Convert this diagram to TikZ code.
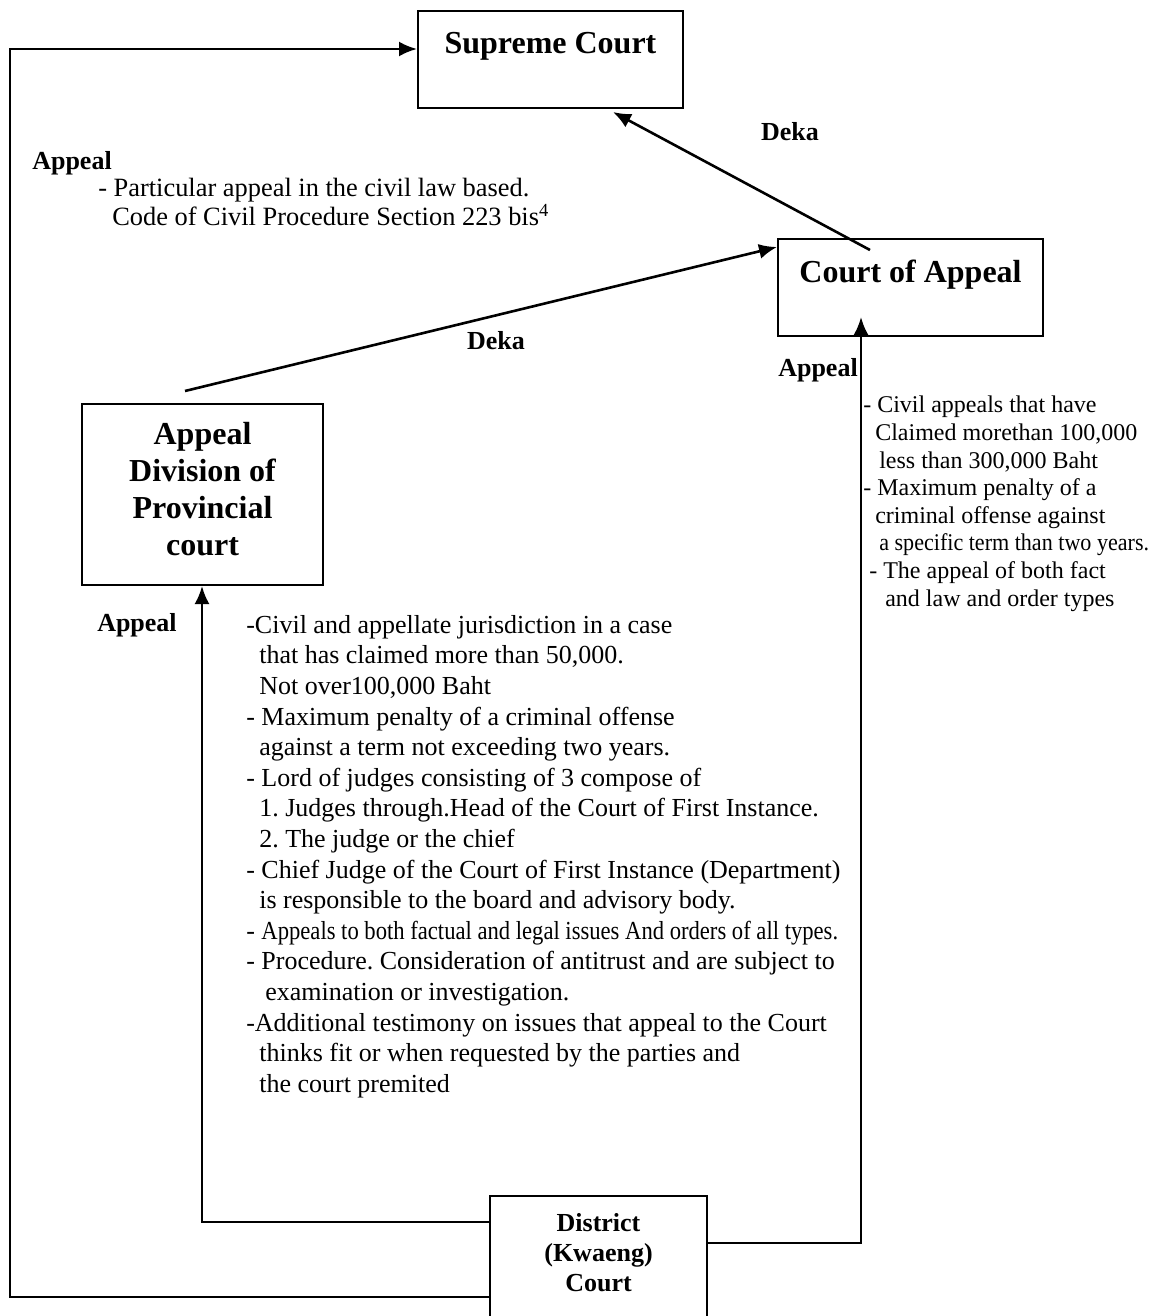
\documentclass[tikz,border=0pt]{standalone}
\usepackage{fontspec}
\setmainfont{Liberation Serif}
\usepackage{graphicx}
\usetikzlibrary{arrows.meta}
\frenchspacing

\tikzset{
  courtbox/.style={draw,line width=1pt,inner sep=0pt,font=\fontsize{16}{18.5}\selectfont\bfseries},
  tagtext/.style={font=\fontsize{13}{15}\selectfont\bfseries,inner sep=0pt},
  notetext/.style={align=left,inner sep=0pt,anchor=north west},
}

\begin{document}
\begin{tikzpicture}[x=0.5pt,y=-0.5pt]
\useasboundingbox (0,0) rectangle (1156,1316);

\begin{scope}[>={Latex[length=9pt,width=7.5pt]},line width=1.3pt]
% the courts
\node[courtbox,anchor=north west,minimum width=132.5pt,text height=21.5pt,text depth=27pt] (supreme) at (417,10) {Supreme Court};
\node[courtbox,anchor=north west,minimum width=132.5pt,text height=21.5pt,text depth=27pt] (appealcourt) at (777,238) {Court of Appeal};
\node[courtbox,anchor=north west,minimum width=120.5pt,minimum height=90.5pt,align=center] (provincial) at (81,403) {Appeal\\Division of\\Provincial\\court\\[-13pt]\mbox{}};
\node[courtbox,anchor=north west,minimum width=108.5pt,minimum height=67.5pt,align=center,font=\fontsize{13}{15}\selectfont\bfseries] (district) at (489,1195) {District\\(Kwaeng)\\Court\\[-4pt]\mbox{}};

% labels on the routes
\node[tagtext] (dekatop) at (790,132) {Deka};
\node[tagtext] (dekamid) at (496,341) {Deka};
\node[tagtext,anchor=west] (appealtop) at (31,163) {Appeal};
\node[tagtext] (appealright) at (818,370) {Appeal};
\node[tagtext] (appealleft) at (137,625) {Appeal};

\node[notetext,font=\fontsize{13.2}{12.5}\selectfont] (supremenote) at (97,177) {- Particular appeal in the civil law based.\\\hspace*{7pt}Code of Civil Procedure Section 223 bis\textsuperscript{4}};
\node[notetext,font=\fontsize{12}{13.8}\selectfont] (appealnote) at (862,395) {- Civil appeals that have\\
\hspace*{6pt}Claimed morethan 100,000\\
\hspace*{8pt}less than 300,000 Baht\\
- Maximum penalty of a\\
\hspace*{6pt}criminal offense against\\
\hspace*{8pt}\scalebox{0.92}[1]{a specific term than two years.}\\
\hspace*{3pt}- The appeal of both fact\\
\hspace*{11pt}and law and order types};
\node[notetext,font=\fontsize{13}{15.3}\selectfont] (provnote) at (245,614) {-Civil and appellate jurisdiction in a case\\
\hspace*{6.5pt}that has claimed more than 50,000.\\
\hspace*{6.5pt}Not over100,000 Baht\\
- Maximum penalty of a criminal offense\\
\hspace*{6.5pt}against a term not exceeding two years.\\
- Lord of judges consisting of 3 compose of\\
\hspace*{6.5pt}1. Judges through.Head of the Court of First Instance.\\
\hspace*{6.5pt}2. The judge or the chief\\
- Chief Judge of the Court of First Instance (Department)\\
\hspace*{6.5pt}is responsible to the board and advisory body.\\
- \scalebox{0.87}[1]{Appeals to both factual and legal issues And orders of all types.}\\
- Procedure. Consideration of antitrust and are subject to\\
\hspace*{9.5pt}examination or investigation.\\
-Additional testimony on issues that appeal to the Court\\
\hspace*{6.5pt}thinks fit or when requested by the parties and\\
\hspace*{6.5pt}the court premited};

% routes
\coordinate (outerlow) at (10,1297);
\coordinate (outerhigh) at (10,49);
\draw[->] (district.west |- outerlow) -- (outerlow) -- (outerhigh) -- (supreme.west |- outerhigh);
\coordinate (provbend) at (202,1222);
\draw[->] (district.west |- provbend) -- (provbend) -- (provincial.south -| provbend);
\coordinate (appbend) at (861,1243);
\coordinate (apptip) at (861,317);
\draw[->] (district.east |- appbend) -- (appbend) -- (apptip);
\coordinate (provtop) at (185,391);
\coordinate (appentry) at (777,247);
\draw[->] (provtop) -- (appealcourt.west |- appentry);
\coordinate (appinner) at (870,250);
\coordinate (supentry) at (613,112);
\draw[->] (appinner) -- (supentry);
\end{scope}
\end{tikzpicture}
\end{document}
